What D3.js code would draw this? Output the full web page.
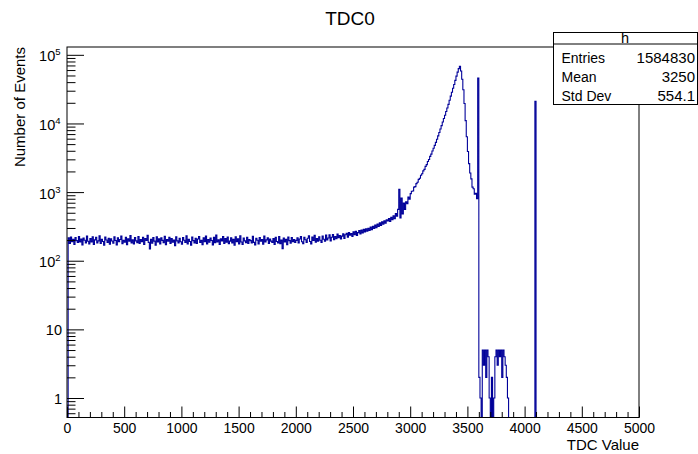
<!DOCTYPE html>
<html>
<head>
<meta charset="utf-8">
<script src="https://cdn.jsdelivr.net/npm/d3@7"></script>
<style>
  html, body { margin: 0; padding: 0; background: #fff; }
  svg { display: block; font-family: "Liberation Sans", Arial, Helvetica, sans-serif; }
</style>
</head>
<body>
<svg id="chart" width="698" height="454"></svg>
<script>
// ---------------- data ----------------
const binWidth = 10;
const xMin = 0, xMax = 5000;
// bins 0..2790 (width 10)
const lowCounts = [
  0, 215, 178, 222, 190, 205, 172, 218, 196, 184, 226, 188, 207, 170, 214, 199, 181, 228, 192, 176,
  210, 187, 224, 173, 201, 219, 182, 195, 230, 178, 206, 191, 168, 221, 200, 185, 213, 174, 209, 194,
  180, 223, 197, 170, 216, 189, 204, 229, 177, 198, 186, 219, 171, 208, 193, 232, 182, 201, 175, 217,
  195, 183, 226, 179, 204, 190, 220, 172, 211, 197, 234, 185, 148, 206, 180, 218, 193, 169, 224, 187,
  208, 176, 215, 198, 183, 227, 171, 203, 192, 219, 179, 210, 186, 200, 166, 223, 195, 181, 212, 189,
  174, 217, 199, 185, 230, 176, 205, 191, 169, 221, 196, 182, 213, 178, 207, 225, 184, 198, 171, 215,
  190, 228, 175, 203, 186, 214, 197, 170, 219, 183, 236, 188, 201, 173, 209, 194, 226, 179, 211, 186,
  222, 177, 193, 216, 182, 205, 168, 224, 190, 209, 176, 231, 187, 172, 214, 195, 183, 220, 178, 203,
  196, 181, 227, 185, 170, 212, 199, 176, 218, 192, 204, 174, 229, 188, 201, 215, 179, 207, 193, 184,
  210, 173, 219, 191, 182, 226, 177, 200, 150, 214, 188, 205, 171, 222, 196, 180, 217, 190, 203, 185,
  198, 216, 181, 207, 225, 189, 177, 219, 202, 184, 213, 230, 191, 176, 221, 197, 234, 186, 210, 193,
  224, 199, 185, 228, 206, 192, 236, 201, 214, 238, 195, 220, 241, 203, 226, 210, 244, 217, 232, 208,
  228, 246, 212, 239, 252, 221, 258, 236, 249, 226, 263, 240, 268, 233, 257, 275, 245, 281, 254, 286,
  262, 292, 270, 298, 276, 310, 283, 318, 296, 330, 302, 342, 315, 356, 326, 368, 340, 382, 352, 395
];
// bins 2800..3590 (width 10)
const peakCounts = [
  380, 410, 372, 430, 395, 452, 410, 488, 445, 560,
  1100, 420, 820, 480, 690, 560, 720, 680, 850, 790,
  950, 1030, 1040, 1180, 1200, 1330, 1390, 1530, 1590, 1760,
  1850, 2040, 2140, 2370, 2510, 2790, 2990, 3310, 3580, 3960,
  4350, 4800, 5300, 5900, 6600, 7400, 8300, 9300, 10500, 11800,
  13200, 14900, 16800, 19000, 21800, 25000, 28500, 32500, 37000, 42500,
  49000, 56000, 63000, 68000, 58000, 44000, 31000, 19500, 11000, 6400,
  3900, 2600, 1900, 1560, 1180, 1120, 930, 960, 800, 46000
];
// sparse non-zero bins above 3600: [bin start, count]
const tailBins = [
  [3600, 2], [3610, 1], [3630, 5], [3640, 3], [3650, 5], [3660, 2], [3670, 5], [3680, 4],
  [3690, 1], [3710, 2], [3730, 1], [3740, 4], [3750, 5], [3760, 3], [3770, 5], [3780, 4],
  [3790, 5], [3800, 2], [3810, 5], [3820, 4], [3830, 3], [3840, 2], [3850, 1],
  [4090, 21000]
];
const xTickLabels = [0, 500, 1000, 1500, 2000, 2500, 3000, 3500, 4000, 4500, 5000];
const yTickLabels = [1, 10, 100, 1000, 10000, 100000];
const statNames = ["Entries", "Mean", "Std Dev"];
const statValues = ["1584830", "3250", "554.1"];

// ---------------- build histogram ----------------
const nBins = (xMax - xMin) / binWidth;
const counts = new Array(nBins).fill(0);
lowCounts.concat(peakCounts).forEach((c, i) => counts[i] = c);
tailBins.forEach(([s, c]) => counts[Math.round((s - xMin) / binWidth)] = c);

// ---------------- layout ----------------
const L = 67, R = 639, T = 47, B = 417.5;
const yMin = 0.52, yMax = 1.3e5;
const x = d3.scaleLinear().domain([xMin, xMax]).range([L, R]);
const y = d3.scaleLog().domain([yMin, yMax]).range([B, T]).clamp(true);

const svg = d3.select("#chart");
const font = '"Liberation Sans", Arial, Helvetica, sans-serif';

// title
svg.append("text").attr("x", 350).attr("y", 25).attr("text-anchor", "middle")
  .attr("font-size", 19).text("TDC0");

// clip
svg.append("defs").append("clipPath").attr("id", "clip")
  .append("rect").attr("x", L).attr("y", T).attr("width", R - L).attr("height", B - T);

// histogram step line
const pts = counts.map((c, i) => [xMin + i * binWidth, c]);
pts.push([xMax, counts[nBins - 1]]);
const line = d3.line()
  .x(d => x(d[0]))
  .y(d => y(d[1] > 0 ? d[1] : 1e-6))
  .curve(d3.curveStepAfter);
svg.append("path").attr("clip-path", "url(#clip)")
  .attr("d", line(pts)).attr("fill", "none")
  .attr("stroke", "#000099").attr("stroke-width", 1.1);

// x axis
const xMinor = d3.range(xMin, xMax + 1, 100).filter(v => v % 500 !== 0);
const gx = svg.append("g").attr("transform", `translate(0,${B})`);
gx.call(d3.axisBottom(x).tickValues(xMinor).tickSize(-5.5).tickFormat(""));
const gx2 = svg.append("g").attr("transform", `translate(0,${B})`);
gx2.call(d3.axisBottom(x).tickValues(xTickLabels).tickSize(-11).tickPadding(4).tickFormat(d3.format("d")));
gx2.selectAll("text").attr("font-size", 14).attr("font-family", font).attr("fill", "#000")
  .attr("y", 5).attr("dy", "0.72em");
gx.select(".domain").remove(); gx2.select(".domain").remove();

// y axis ticks
const yMinorVals = [];
[0.1, 1, 10, 100, 1000, 10000, 100000].forEach(dec => {
  for (let k = 2; k <= 9; k++) {
    const v = dec * k;
    if (v >= yMin && v <= yMax) yMinorVals.push(v);
  }
});
const gy = svg.append("g").attr("transform", `translate(${L},0)`);
gy.call(d3.axisLeft(y).tickValues(yMinorVals).tickSize(-8.5).tickFormat(""));
const gy2 = svg.append("g").attr("transform", `translate(${L},0)`);
gy2.call(d3.axisLeft(y).tickValues(yTickLabels).tickSize(-17).tickFormat(""));
gy.select(".domain").remove(); gy2.select(".domain").remove();

// y tick labels
yTickLabels.forEach(v => {
  const e = Math.round(Math.log10(v));
  const yy = y(v);
  if (e <= 1) {
    svg.append("text").attr("x", 62).attr("y", yy + 5.5).attr("text-anchor", "end")
      .attr("font-size", 14.5).text(String(v));
  } else {
    const t = svg.append("text").attr("x", 60.5).attr("y", yy + 6.5).attr("text-anchor", "end")
      .attr("font-size", 14.5);
    t.append("tspan").text("10");
    t.append("tspan").attr("dy", -6).attr("font-size", 9.5).text(String(e));
  }
});

// frame
svg.append("rect").attr("x", L).attr("y", T).attr("width", R - L).attr("height", B - T)
  .attr("fill", "none").attr("stroke", "#000").attr("stroke-width", 1);

// axis titles
svg.append("text").attr("x", R).attr("y", 450).attr("text-anchor", "end")
  .attr("font-size", 15).text("TDC Value");
svg.append("text").attr("transform", `translate(24.5,${T}) rotate(-90)`).attr("text-anchor", "end")
  .attr("font-size", 15).text("Number of Events");

// stats box
const bx = 553.5, by = 32.5, bw = 144, bh = 72;
svg.append("rect").attr("x", bx).attr("y", by).attr("width", bw).attr("height", bh)
  .attr("fill", "#fff").attr("stroke", "#000").attr("stroke-width", 1);
svg.append("line").attr("x1", bx).attr("x2", bx + bw).attr("y1", 44).attr("y2", 44)
  .attr("stroke", "#000").attr("stroke-width", 1);
svg.append("text").attr("x", 625).attr("y", 42.5).attr("text-anchor", "middle")
  .attr("font-size", 14.5).text("h");
const rowY = [62.5, 82.3, 101.2];
statNames.forEach((n, i) => {
  svg.append("text").attr("x", 561.5).attr("y", rowY[i]).attr("font-size", 14).text(n);
  svg.append("text").attr("x", 695).attr("y", rowY[i]).attr("text-anchor", "end")
    .attr("font-size", 15).text(statValues[i]);
});
</script>
</body>
</html>
